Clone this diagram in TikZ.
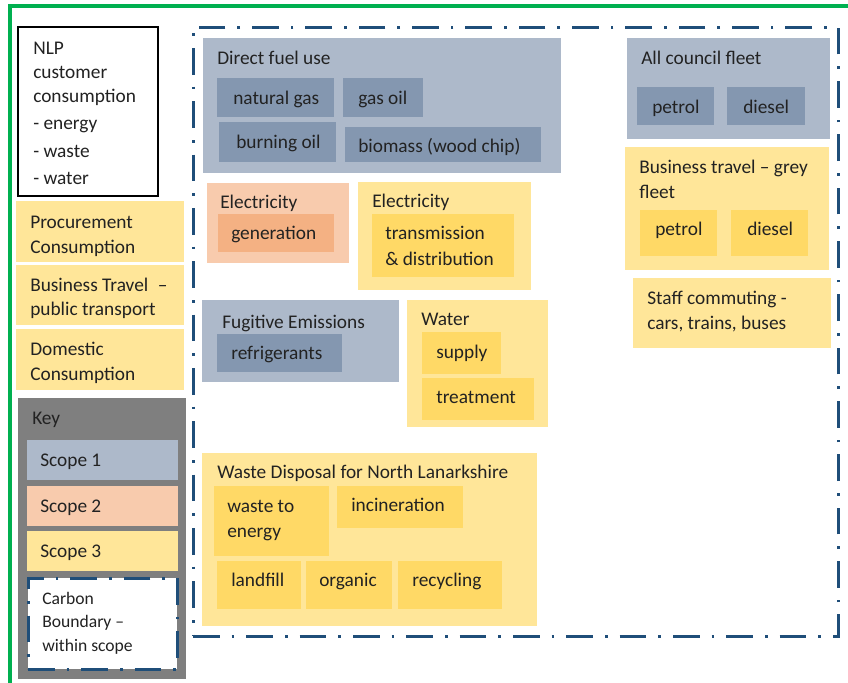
\documentclass[tikz,border=0pt]{standalone}
\usepackage{fontspec}
\setmainfont{Carlito}
\definecolor{sA}{HTML}{ADB9CA}
\definecolor{sAd}{HTML}{8497B0}
\definecolor{sB}{HTML}{F8CBAD}
\definecolor{sBd}{HTML}{F4B183}
\definecolor{sC}{HTML}{FFE699}
\definecolor{sCd}{HTML}{FFD966}
\definecolor{keygray}{HTML}{7F7F7F}
\definecolor{cbblue}{HTML}{1F4E79}
\definecolor{frgreen}{HTML}{00B050}
\definecolor{txtc}{HTML}{222222}
\newcommand\mybox[6][]{\node[box,#1,minimum width={(#5-#3)*0.75pt},minimum height={(#6-#4)*0.75pt}] (#2) at ({(#3+#5)/2},{(#4+#6)/2}) {};}
\tikzset{
  box/.style={rectangle,inner sep=0pt,outer sep=0pt},
  txt/.style={anchor=mid west,inner sep=0pt,yshift=-2.25pt,text=txtc,font=\fontsize{14.5}{17}\selectfont},
  stxt/.style={anchor=mid west,inner sep=0pt,yshift=-2pt,text=txtc,font=\fontsize{13.2}{16}\selectfont},
  cbline/.style={draw=cbblue,line width=2.25pt,dash pattern=on 20pt off 9pt on 2pt off 9pt},
}
\begin{document}
\begin{tikzpicture}[x=0.75pt,y=-0.75pt]
\useasboundingbox (0,0) rectangle (848,682);
% outer green frame
\coordinate (g1) at (10,720);
\coordinate (g2) at (10,6);
\coordinate (g3) at (880,6);
\draw[frgreen,line width=2.5pt] (g1) -- (g2) -- (g3);
% carbon boundary
\mybox[cbline]{boundary}{193}{27}{838}{636}
% NLP box
\mybox[draw=black,line width=1.6pt,fill=white]{nlp}{18}{27}{158}{196}
\node[txt] (n1) at (33,48) {NLP};
\node[txt] (n2) at (33,72) {customer};
\node[txt] (n3) at (33,96) {consumption};
\node[txt] (n4) at (33,123) {- energy};
\node[txt] (n5) at (33,151) {- waste};
\node[txt] (n6) at (33,178) {- water};
% left scope 3 boxes
\mybox[fill=sC]{proc}{16}{201}{184}{262}
\node[txt] (p1) at (30,222) {Procurement};
\node[txt] (p2) at (30,247) {Consumption};
\mybox[fill=sC]{btpub}{16}{265}{184}{325}
\node[txt] (b1) at (30,285) {Business Travel\enspace–};
\node[txt] (b2) at (30,309) {public transport};
\mybox[fill=sC]{dom}{16}{329}{184}{390}
\node[txt] (d1) at (30,349) {Domestic};
\node[txt] (d2) at (30,374) {Consumption};
% key
\mybox[fill=keygray]{key}{18}{398}{186}{679}
\node[txt] (k0) at (32,418) {Key};
\mybox[fill=sA]{key1}{27}{440}{178}{480}
\node[txt] (k1) at (40,460) {Scope 1};
\mybox[fill=sB]{key2}{27}{486}{178}{526}
\node[txt] (k2) at (40,506) {Scope 2};
\mybox[fill=sC]{key3}{27}{531}{178}{571}
\node[txt] (k3) at (40,551) {Scope 3};
\mybox[fill=white,cbline]{key4}{28}{578}{177}{669}
\node[stxt] (k4a) at (42,599) {Carbon};
\node[stxt] (k4b) at (42,622) {Boundary –};
\node[stxt] (k4c) at (42,646) {within scope};
% direct fuel use
\mybox[fill=sA]{dfu}{203}{38}{561}{173}
\node[txt] (dfut) at (217,58) {Direct fuel use};
\mybox[fill=sAd]{ng}{217}{78}{334}{117}
\node[txt] (ngt) at (233,98) {natural gas};
\mybox[fill=sAd]{go}{343}{78}{423}{117}
\node[txt] (got) at (358,98) {gas oil};
\mybox[fill=sAd]{bo}{219}{122}{336}{162}
\node[txt] (bot) at (236,142) {burning oil};
\mybox[fill=sAd]{bm}{345}{127}{541}{162}
\node[txt] (bmt) at (358,146) {biomass (wood chip)};
% electricity generation
\mybox[fill=sB]{eg}{207}{183}{349}{263}
\node[txt] (egt) at (220,202) {Electricity};
\mybox[fill=sBd]{gen}{218}{214}{334}{252}
\node[txt] (gent) at (231,233) {generation};
% electricity transmission
\mybox[fill=sC]{et}{358}{182}{531}{290}
\node[txt] (ett) at (372,201) {Electricity};
\mybox[fill=sCd]{td}{372}{214}{514}{277}
\node[txt] (td1) at (385,233) {transmission};
\node[txt] (td2) at (385,259) {\& distribution};
% fugitive emissions
\mybox[fill=sA]{fe}{202}{300}{399}{382}
\node[txt] (fet) at (222,322) {Fugitive Emissions};
\mybox[fill=sAd]{rf}{217}{334}{342}{372}
\node[txt] (rft) at (231,353) {refrigerants};
% water
\mybox[fill=sC]{wa}{407}{300}{548}{427}
\node[txt] (wat) at (421,319) {Water};
\mybox[fill=sCd]{su}{422}{332}{501}{374}
\node[txt] (sut) at (436,352) {supply};
\mybox[fill=sCd]{tr}{422}{378}{534}{420}
\node[txt] (trt) at (436,397) {treatment};
% waste disposal
\mybox[fill=sC]{wd}{202}{453}{537}{626}
\node[txt] (wdt) at (217,472) {Waste Disposal for North Lanarkshire};
\mybox[fill=sCd]{wte}{214}{486}{329}{556}
\node[txt] (wte1) at (227,506) {waste to};
\node[txt] (wte2) at (227,531) {energy};
\mybox[fill=sCd]{inc}{337}{486}{463}{528}
\node[txt] (inct) at (351,505) {incineration};
\mybox[fill=sCd]{lf}{217}{561}{301}{609}
\node[txt] (lft) at (231,580) {landfill};
\mybox[fill=sCd]{org}{306}{561}{392}{609}
\node[txt] (orgt) at (319,580) {organic};
\mybox[fill=sCd]{rec}{398}{561}{502}{609}
\node[txt] (rect) at (412,580) {recycling};
% all council fleet
\mybox[fill=sA]{acf}{627}{38}{830}{139}
\node[txt] (acft) at (641,58) {All council fleet};
\mybox[fill=sAd]{acp}{637}{87}{714}{125}
\node[txt] (acpt) at (652,107) {petrol};
\mybox[fill=sAd]{acd}{727}{87}{805}{125}
\node[txt] (acdt) at (743,107) {diesel};
% grey fleet
\mybox[fill=sC]{gf}{625}{147}{829}{270}
\node[txt] (gf1) at (639,167) {Business travel – grey};
\node[txt] (gf2) at (639,192) {fleet};
\mybox[fill=sCd]{gfp}{640}{210}{717}{256}
\node[txt] (gfpt) at (655,229) {petrol};
\mybox[fill=sCd]{gfd}{731}{210}{808}{256}
\node[txt] (gfdt) at (747,229) {diesel};
% staff commuting
\mybox[fill=sC]{sc}{633}{278}{831}{348}
\node[txt] (sc1) at (647,298) {Staff commuting -};
\node[txt] (sc2) at (647,323) {cars, trains, buses};
\end{tikzpicture}
\end{document}
